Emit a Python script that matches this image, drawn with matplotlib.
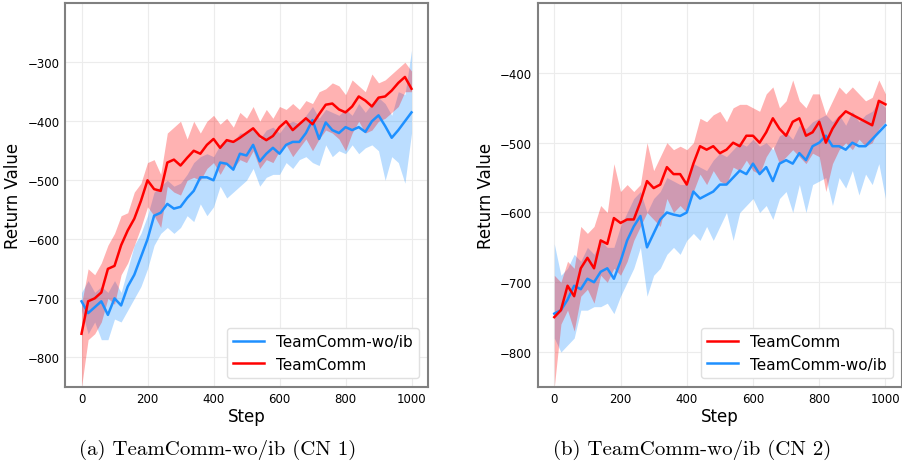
import numpy as np
import matplotlib
matplotlib.use('Agg')
import matplotlib.pyplot as plt

# training steps (every 20)
steps = np.arange(0, 1001, 20)

# CN 1 - TeamComm
cn1_tc_mean = [-760, -705, -700, -690, -650, -645, -610, -585, -565, -535, -500, -515, -518, -470, -465, -475, -462,
               -450, -455, -440, -430, -445, -432, -435, -428, -420, -412, -425, -432, -425, -410, -400, -415, -405,
               -395, -405, -388, -372, -370, -380, -385, -375, -358, -365, -375, -360, -358, -348, -335, -325, -345]
cn1_tc_lo = [-850, -770, -760, -740, -700, -710, -660, -640, -610, -580, -545, -560, -580, -510, -520, -525, -500,
             -495, -500, -480, -470, -490, -470, -480, -465, -470, -450, -480, -465, -470, -450, -440, -460, -445,
             -430, -450, -430, -415, -420, -430, -450, -420, -400, -420, -415, -400, -395, -385, -375, -350, -350]
cn1_tc_hi = [-710, -650, -660, -640, -610, -590, -560, -555, -520, -505, -470, -465, -490, -420, -410, -400, -430,
             -400, -420, -400, -390, -405, -395, -410, -385, -395, -375, -400, -380, -395, -375, -380, -370, -380,
             -365, -370, -350, -345, -335, -340, -355, -330, -340, -350, -320, -335, -330, -320, -310, -300, -315]

# CN 1 - TeamComm-wo/ib
cn1_wo_mean = [-705, -725, -715, -705, -728, -700, -712, -680, -660, -630, -600, -560, -555, -540, -548, -545, -530,
               -518, -495, -495, -500, -470, -472, -482, -455, -458, -440, -468, -455, -445, -455, -440, -435, -435,
               -420, -398, -430, -402, -415, -420, -410, -415, -410, -418, -400, -390, -408, -428, -415, -400, -385]
cn1_wo_lo = [-720, -760, -740, -770, -770, -735, -740, -720, -700, -680, -650, -610, -590, -580, -590, -580, -560,
             -570, -540, -560, -545, -510, -530, -520, -510, -500, -480, -510, -495, -490, -490, -470, -480, -465,
             -460, -470, -475, -440, -460, -450, -455, -440, -455, -445, -440, -450, -500, -460, -470, -505, -420]
cn1_wo_hi = [-690, -670, -690, -680, -690, -670, -690, -650, -610, -590, -560, -520, -510, -500, -510, -505, -490,
             -470, -460, -455, -460, -440, -430, -435, -420, -420, -410, -430, -415, -410, -420, -405, -400, -405,
             -390, -375, -395, -380, -385, -390, -380, -390, -370, -385, -370, -360, -370, -390, -350, -355, -280]

# CN 2 - TeamComm
cn2_tc_mean = [-750, -740, -705, -720, -680, -665, -680, -640, -645, -608, -615, -610, -610, -585, -555, -565, -560,
               -535, -545, -545, -560, -530, -505, -510, -505, -515, -510, -500, -505, -490, -490, -500, -485, -465,
               -480, -490, -470, -465, -490, -485, -470, -500, -480, -465, -455, -460, -465, -470, -475, -440, -445]
cn2_tc_lo = [-850, -760, -740, -770, -720, -710, -730, -690, -700, -680, -690, -670, -640, -620, -600, -610, -620,
             -580, -600, -590, -600, -570, -545, -560, -540, -555, -560, -535, -540, -525, -540, -545, -520, -505,
             -530, -520, -510, -520, -530, -515, -520, -570, -530, -510, -500, -510, -495, -505, -500, -480, -470]
cn2_tc_hi = [-690, -700, -670, -680, -620, -630, -620, -590, -600, -530, -570, -560, -570, -560, -500, -540, -520,
             -500, -510, -505, -510, -500, -465, -470, -460, -455, -470, -450, -445, -445, -450, -455, -430, -420,
             -450, -440, -410, -440, -450, -430, -430, -460, -440, -420, -430, -420, -430, -440, -435, -410, -430]

# CN 2 - TeamComm-wo/ib
cn2_wo_mean = [-745, -740, -725, -705, -710, -695, -700, -685, -680, -695, -670, -640, -620, -605, -650, -630, -610,
               -600, -603, -605, -600, -570, -580, -575, -570, -560, -560, -550, -540, -545, -530, -545, -535, -555,
               -530, -525, -530, -515, -525, -505, -500, -490, -505, -505, -510, -500, -505, -505, -495, -485, -475]
cn2_wo_lo = [-780, -800, -790, -780, -740, -740, -735, -735, -730, -745, -720, -700, -680, -650, -720, -690, -680,
             -660, -650, -660, -640, -630, -640, -620, -640, -620, -600, -640, -600, -590, -580, -600, -590, -610,
             -580, -570, -600, -560, -600, -560, -555, -550, -590, -550, -565, -540, -575, -545, -560, -530, -580]
cn2_wo_hi = [-645, -690, -680, -660, -670, -650, -660, -640, -650, -650, -620, -600, -580, -570, -600, -580, -570,
             -550, -555, -560, -560, -530, -535, -540, -525, -515, -520, -510, -500, -505, -495, -505, -500, -510,
             -490, -485, -495, -475, -480, -470, -465, -460, -470, -460, -475, -455, -470, -460, -455, -440, -450]

red = '#ff0000'
blue = '#1e90ff'

fig = plt.figure(figsize=(9.03, 4.64), dpi=100)
ax1 = fig.add_axes([0.072, 0.164, 0.402, 0.827])
ax2 = fig.add_axes([0.5955, 0.164, 0.4034, 0.827])


def panel(ax, tc, wo, ylim, yticks, order):
    ax.fill_between(steps, wo[1], wo[2], color=blue, alpha=0.3, linewidth=0)
    ax.fill_between(steps, tc[1], tc[2], color=red, alpha=0.3, linewidth=0)
    l_wo, = ax.plot(steps, wo[0], color=blue, lw=1.8, label='TeamComm-wo/ib')
    l_tc, = ax.plot(steps, tc[0], color=red, lw=1.8, label='TeamComm')
    ax.set_xlim(-50, 1050)
    ax.set_ylim(*ylim)
    ax.set_xticks([0, 200, 400, 600, 800, 1000])
    ax.set_yticks(yticks)
    ax.grid(True, color='#ececec', linewidth=0.8)
    ax.set_axisbelow(True)
    ax.tick_params(length=0, labelsize=8.5, pad=4)
    for s in ax.spines.values():
        s.set_color('#808080')
        s.set_linewidth(1.5)
    ax.set_xlabel('Step', fontsize=12, labelpad=1)
    ax.set_ylabel('Return Value', fontsize=12, labelpad=4)
    handles = [l_wo, l_tc] if order == 'wo' else [l_tc, l_wo]
    ax.legend(handles=handles, loc='lower right', fontsize=11, framealpha=1,
              edgecolor='#e0e0e0', fancybox=True, borderaxespad=0.6)


panel(ax1, (cn1_tc_mean, cn1_tc_lo, cn1_tc_hi), (cn1_wo_mean, cn1_wo_lo, cn1_wo_hi),
      (-850, -200), [-800, -700, -600, -500, -400, -300], 'wo')
panel(ax2, (cn2_tc_mean, cn2_tc_lo, cn2_tc_hi), (cn2_wo_mean, cn2_wo_lo, cn2_wo_hi),
      (-850, -300), [-800, -700, -600, -500, -400], 'tc')

fig.text(218 / 903, 1 - 450 / 464, '(a) TeamComm-wo/ib (CN 1)', family='cmr10', fontsize=15,
         ha='center', va='center')
fig.text(692 / 903, 1 - 450 / 464, '(b) TeamComm-wo/ib (CN 2)', family='cmr10', fontsize=15,
         ha='center', va='center')

fig.savefig('out.png', dpi=100)
